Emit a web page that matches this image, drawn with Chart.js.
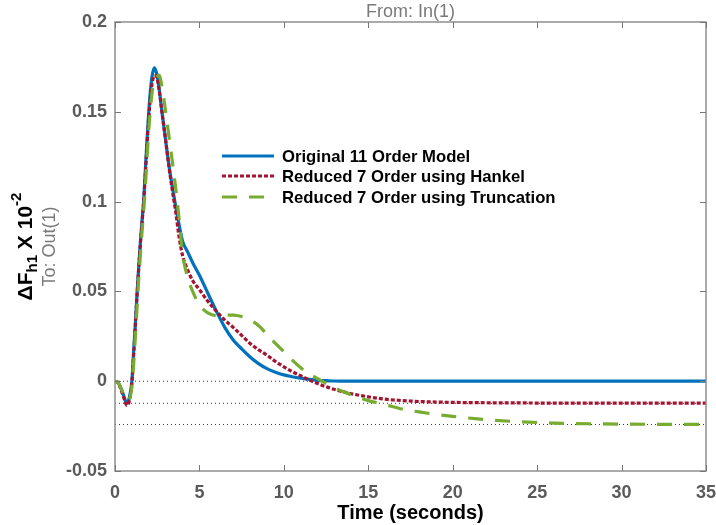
<!DOCTYPE html>
<html><head><meta charset="utf-8">
<script src="https://cdn.jsdelivr.net/npm/chart.js@4.4.1/dist/chart.umd.min.js"></script>
<style>html,body{margin:0;padding:0;background:#fff;overflow:hidden}#wrap{width:716px;height:525px;position:relative}</style>
</head><body><div id="wrap"><canvas id="c" width="716" height="525"></canvas></div>
<script>
// ---- data ----
const timeSec = [0,0.2,0.4,0.55,0.7,0.85,1.0,1.1,1.2,1.3,1.4,1.5,1.6,1.7,1.8,1.9,2.0,2.1,2.2,2.33,2.45,2.6,2.78,3.0,3.2,3.4,3.6,3.8,4.0,4.3,4.6,5.0,5.5,6.0,6.5,7.0,7.5,8.0,8.5,9.0,9.5,10,10.5,11,11.5,12,12.5,13,13.5,14,15,16,17,18,19,20,22,24,26,28,30,32,35];
const originalModel = [0,-0.001,-0.005,-0.009,-0.0124,-0.009,0.000,0.016,0.031,0.048,0.063,0.077,0.089,0.101,0.118,0.135,0.150,0.162,0.170,0.1745,0.172,0.164,0.150,0.134,0.120,0.108,0.097,0.087,0.078,0.072,0.066,0.059,0.049,0.039,0.030,0.023,0.018,0.0135,0.0098,0.007,0.005,0.0035,0.0025,0.0017,0.001,0.0005,0.0003,0.0001,0,0,0,0,0,0,0,0,0,0,0,0,0,0,0];
const hankelModel = [0,-0.001,-0.006,-0.010,-0.0135,-0.011,-0.001,0.014,0.030,0.047,0.062,0.076,0.088,0.100,0.116,0.132,0.147,0.158,0.166,0.170,0.170,0.163,0.150,0.134,0.119,0.106,0.094,0.080,0.070,0.062,0.056,0.051,0.0445,0.039,0.034,0.030,0.0255,0.021,0.0175,0.0145,0.011,0.008,0.0053,0.003,0.0007,-0.0013,-0.0031,-0.0046,-0.0059,-0.007,-0.0087,-0.010,-0.0108,-0.0113,-0.0116,-0.0118,-0.012,-0.0121,-0.0122,-0.0122,-0.0122,-0.0122,-0.0122];
const truncationModel = [0,-0.001,-0.005,-0.008,-0.011,-0.010,-0.003,0.009,0.024,0.040,0.056,0.070,0.083,0.095,0.109,0.125,0.140,0.152,0.161,0.167,0.169,0.1705,0.164,0.150,0.136,0.122,0.107,0.090,0.071,0.058,0.050,0.0425,0.038,0.0365,0.0367,0.0368,0.036,0.034,0.031,0.026,0.021,0.0165,0.0117,0.0075,0.0042,0.0014,-0.0012,-0.0036,-0.0057,-0.0076,-0.0108,-0.013,-0.0155,-0.0171,-0.0185,-0.0196,-0.0214,-0.0226,-0.0233,-0.0237,-0.0239,-0.024,-0.0241];
const steadyStates = [0, -0.0123, -0.0241];
const xTickValues = [0,5,10,15,20,25,30,35];
const yTickValues = [-0.05,0,0.05,0.1,0.15,0.2];
const seriesLabels = ['Original 11 Order Model','Reduced 7 Order using Hankel','Reduced 7 Order using Truncation'];
const xAxisTitle = 'Time (seconds)';
const plotTitle = 'From: In(1)';
const outputLabel = 'To: Out(1)';

// ---- styles ----
const FONT = "'Liberation Sans', Arial, Helvetica, sans-serif";
const COLORS = ['#0072BD', '#A2142F', '#77AC30'];
const DASHES = [[], [4, 2], [15, 12]];
const WIDTHS = [3.2, 3.2, 3.2];
const BOX = '#8f8f8f';

const toXY = arr => timeSec.map((t, i) => ({x: t, y: arr[i]}));
const series = [originalModel, hankelModel, truncationModel];

const datasets = [];
series.forEach((s, i) => {
  datasets.push({
    label: seriesLabels[i], data: toXY(s), borderColor: COLORS[i], borderWidth: WIDTHS[i],
    borderDash: DASHES[i], pointRadius: 0, fill: false, cubicInterpolationMode: 'monotone',
    order: 2 - i
  });
});
steadyStates.forEach(v => {
  datasets.push({
    label: 'ref', data: [{x: xTickValues[0], y: v}, {x: xTickValues[xTickValues.length - 1], y: v}],
    borderColor: '#333', borderWidth: 1, borderDash: [1, 3], pointRadius: 0, fill: false, order: 5
  });
});

const decorPlugin = {
  id: 'decor',
  afterDraw(chart) {
    const ctx = chart.ctx, a = chart.chartArea, xs = chart.scales.x, ys = chart.scales.y;
    ctx.save();
    // box
    ctx.strokeStyle = BOX; ctx.lineWidth = 1.5; ctx.setLineDash([]);
    ctx.strokeRect(a.left, a.top, a.right - a.left, a.bottom - a.top);
    // inward ticks
    ctx.lineWidth = 1; ctx.strokeStyle = '#777';
    ctx.beginPath();
    xTickValues.forEach(v => {
      const px = Math.round(xs.getPixelForValue(v)) + 0.5;
      ctx.moveTo(px, a.bottom); ctx.lineTo(px, a.bottom - 6);
      ctx.moveTo(px, a.top); ctx.lineTo(px, a.top + 6);
    });
    yTickValues.forEach(v => {
      const py = Math.round(ys.getPixelForValue(v)) + 0.5;
      ctx.moveTo(a.left, py); ctx.lineTo(a.left + 6, py);
      ctx.moveTo(a.right, py); ctx.lineTo(a.right - 6, py);
    });
    ctx.stroke();
    // title
    ctx.fillStyle = '#7a7a7a';
    ctx.font = '18px ' + FONT;
    ctx.textAlign = 'center'; ctx.textBaseline = 'alphabetic';
    ctx.fillText(plotTitle, (a.left + a.right) / 2, 17);
    // y label (rotated)
    const cy = (a.top + a.bottom) / 2;
    ctx.save();
    ctx.translate(32, cy);
    ctx.rotate(-Math.PI / 2);
    ctx.textAlign = 'left';
    const mainF = 'bold 21px ' + FONT, subF = 'bold 15px ' + FONT;
    const parts = [['\u0394F', mainF, 0], ['h1', subF, 5], [' X 10', mainF, 0], ['-2', subF, -11]];
    let total = 0;
    parts.forEach(p => { ctx.font = p[1]; total += ctx.measureText(p[0]).width; });
    let x = -total / 2;
    ctx.fillStyle = '#000';
    parts.forEach(p => { ctx.font = p[1]; ctx.fillText(p[0], x, p[2]); x += ctx.measureText(p[0]).width; });
    ctx.restore();
    // To: Out(1)
    ctx.save();
    ctx.translate(55, cy);
    ctx.rotate(-Math.PI / 2);
    ctx.textAlign = 'center';
    ctx.fillStyle = '#7a7a7a';
    ctx.font = '18px ' + FONT;
    ctx.fillText(outputLabel, 0, 0);
    ctx.restore();
    // legend
    const lx0 = 222, lx1 = 274, tx = 282, rows = [156, 176, 197];
    seriesLabels.forEach((lab, i) => {
      ctx.strokeStyle = COLORS[i]; ctx.lineWidth = WIDTHS[i]; ctx.setLineDash(DASHES[i]);
      ctx.beginPath(); ctx.moveTo(lx0, rows[i]); ctx.lineTo(lx1, rows[i]); ctx.stroke();
      ctx.setLineDash([]);
      ctx.fillStyle = '#000'; ctx.font = 'bold 16.7px ' + FONT;
      ctx.textAlign = 'left'; ctx.textBaseline = 'middle';
      ctx.fillText(lab, tx, rows[i] + 1);
    });
    ctx.restore();
  }
};

const fmt = v => String(Math.round(v * 100) / 100);

new Chart(document.getElementById('c'), {
  type: 'line',
  data: {datasets},
  options: {
    responsive: false, animation: false, devicePixelRatio: 1,
    layout: {padding: {left: 0, right: 10, top: 22, bottom: 0}},
    plugins: {legend: {display: false}, tooltip: {enabled: false}},
    scales: {
      x: {
        type: 'linear', min: 0, max: 35,
        afterBuildTicks: s => { s.ticks = xTickValues.map(v => ({value: v})); },
        afterFit: s => { s.height = 54; s.paddingLeft = 0; s.paddingRight = 0; },
        grid: {display: false, drawTicks: false}, border: {display: false},
        ticks: {color: '#5a5a5a', font: {family: FONT, size: 18, weight: 'bold'}, padding: 11, maxRotation: 0, callback: v => fmt(v)},
        title: {display: true, text: xAxisTitle, color: '#000', font: {family: FONT, size: 20, weight: 'bold'}, padding: {top: 0, bottom: 0}}
      },
      y: {
        type: 'linear', min: -0.05, max: 0.2,
        afterBuildTicks: s => { s.ticks = yTickValues.map(v => ({value: v})); },
        afterFit: s => { s.width = 115; s.paddingTop = 0; s.paddingBottom = 0; },
        grid: {display: false, drawTicks: false}, border: {display: false},
        ticks: {color: '#5a5a5a', font: {family: FONT, size: 18, weight: 'bold'}, padding: 8, callback: v => fmt(v)}
      }
    }
  },
  plugins: [decorPlugin]
});
</script>
</body></html>
